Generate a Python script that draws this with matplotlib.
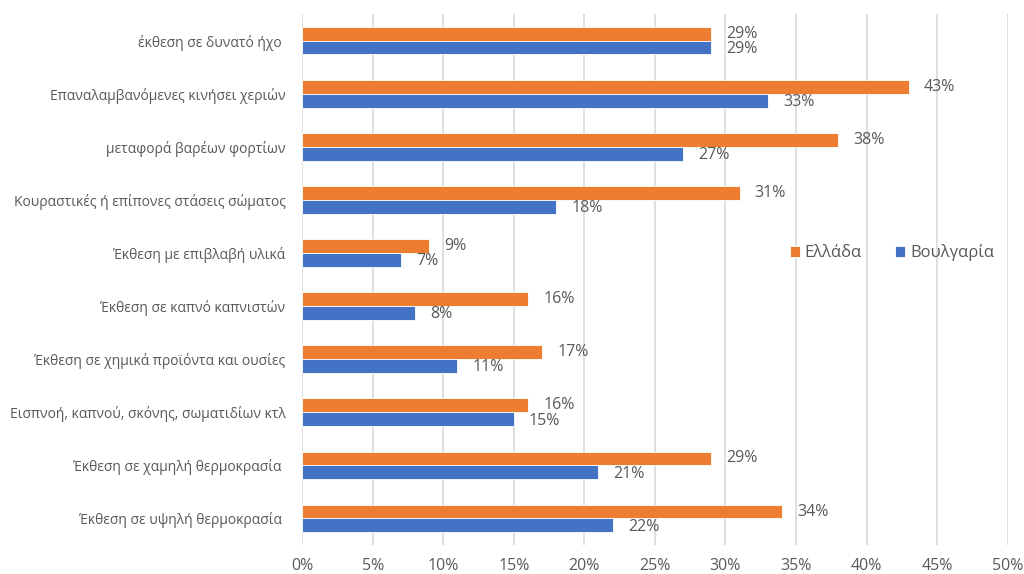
import numpy as np
import matplotlib.pyplot as plt
from matplotlib.ticker import MultipleLocator, FuncFormatter

categories = [
    "έκθεση σε δυνατό ήχο ",
    "Επαναλαμβανόμενες κινήσει χεριών",
    "μεταφορά βαρέων φορτίων",
    "Κουραστικές ή επίπονες στάσεις σώματος",
    "Έκθεση με επιβλαβή υλικά",
    "Έκθεση σε καπνό καπνιστών",
    "Έκθεση σε χημικά προϊόντα και ουσίες",
    "Εισπνοή, καπνού, σκόνης, σωματιδίων κτλ",
    "Έκθεση σε χαμηλή θερμοκρασία ",
    "Έκθεση σε υψηλή θερμοκρασία ",
]
greece = [29, 43, 38, 31, 9, 16, 17, 16, 29, 34]
bulgaria = [29, 33, 27, 18, 7, 8, 11, 15, 21, 22]

ORANGE = "#ED7D31"
BLUE = "#4472C4"
TEXT = "#595959"

plt.rcParams['font.family'] = ['Open Sans', 'DejaVu Sans']

fig = plt.figure(figsize=(10.24, 5.74), dpi=100)
ax = fig.add_axes([0.295, 0.0505, 0.689, 0.925])

y = np.arange(len(categories))
h = 0.26
ax.barh(y - h / 2, greece, height=h, color=ORANGE, label="Ελλάδα",
        edgecolor="white", linewidth=0.6, zorder=3)
ax.barh(y + h / 2, bulgaria, height=h, color=BLUE, label="Βουλγαρία",
        edgecolor="white", linewidth=0.6, zorder=3)

# value labels at bar ends
for yi, g, b in zip(y, greece, bulgaria):
    ax.annotate(f"{g}%", (g, yi - h / 2), xytext=(11, 0), textcoords="offset points",
                va="center", ha="left", fontsize=11.5, color=TEXT)
    ax.annotate(f"{b}%", (b, yi + h / 2), xytext=(11, -1), textcoords="offset points",
                va="center", ha="left", fontsize=11.5, color=TEXT)

ax.set_xlim(0, 50)
ax.set_ylim(len(categories) - 0.5, -0.5)
ax.xaxis.set_major_locator(MultipleLocator(5))
ax.xaxis.set_major_formatter(FuncFormatter(lambda v, p: f"{v:.0f}%"))
ax.set_yticks(y)
ax.set_yticklabels(categories, fontsize=10, color=TEXT)
ax.tick_params(axis="y", length=0, pad=12)
ax.tick_params(axis="x", length=0, pad=9, labelsize=11.5, colors=TEXT)

ax.grid(axis="x", color="#D9D9D9", linewidth=1.2, zorder=0)
ax.grid(axis="y", visible=False)
for s in ax.spines.values():
    s.set_visible(False)

ax.legend(loc="center left", bbox_to_anchor=(0.67, 0.55), ncol=2, frameon=False,
          fontsize=12, handlelength=0.6, handleheight=0.6, handletextpad=0.3,
          columnspacing=2.0, labelcolor=TEXT)

fig.savefig("out.png", dpi=100)
